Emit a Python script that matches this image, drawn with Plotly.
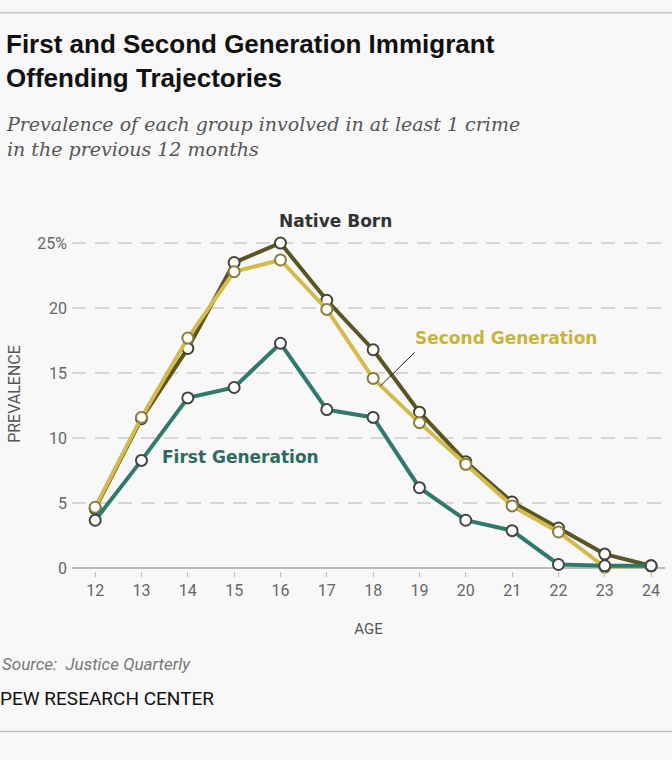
import plotly.graph_objects as go

ages = [12, 13, 14, 15, 16, 17, 18, 19, 20, 21, 22, 23, 24]
native_born = [4.6, 11.5, 16.9, 23.5, 25.0, 20.6, 16.8, 12.0, 8.2, 5.1, 3.1, 1.1, 0.2]
second_gen = [4.7, 11.6, 17.7, 22.8, 23.7, 19.9, 14.6, 11.2, 8.0, 4.8, 2.8, 0.1, 0.2]
first_gen = [3.7, 8.3, 13.1, 13.9, 17.3, 12.2, 11.6, 6.2, 3.7, 2.9, 0.3, 0.2, 0.2]
y_tickvals = [0, 5, 10, 15, 20, 25]
y_ticktext = ["0", "5", "10", "15", "20", "25%"]

W, H = 672, 760
L, R, T = 72, 665, 217
YMIN, YMAX = -0.2, 27
BOT = 570.6
ml, mr, mt, mb = L, W - R, T, H - BOT


def px(x):
    return (x - L) / (R - L)


def py(y):
    return (BOT - y) / (BOT - T)


BG = "#f8f8f8"
C_NATIVE = "#5a5522"
C_SECOND = "#d4ba4c"
C_FIRST = "#2f7a6d"

fig = go.Figure()


def add(vals, color, outline):
    fig.add_trace(go.Scatter(
        x=ages, y=vals, mode="lines+markers",
        line=dict(color=color, width=4),
        marker=dict(size=11, color="white", line=dict(color=outline, width=2)),
        hoverinfo="skip", showlegend=False, cliponaxis=False))


add(native_born, C_NATIVE, "#444433")
add(second_gen, C_SECOND, "#8a7e3a")
add(first_gen, C_FIRST, "#444444")

tick_font = dict(family="Roboto, Liberation Sans, sans-serif", size=16, color="#666666")

fig.update_layout(
    width=W, height=H,
    margin=dict(l=ml, r=mr, t=mt, b=mb, pad=0),
    paper_bgcolor=BG, plot_bgcolor=BG,
    xaxis=dict(range=[11.5, 24.3], tickvals=ages, ticks="outside", ticklen=5,
               tickcolor="#bbbbbb", tickfont=tick_font, showgrid=False, zeroline=False,
               showline=False, fixedrange=True,
               title=dict(text="AGE", font=dict(family="Roboto, sans-serif", size=15, color="#555555"),
                          standoff=24)),
    yaxis=dict(range=[YMIN, YMAX], tickvals=y_tickvals, ticktext=y_ticktext,
               tickfont=tick_font, showgrid=True, gridcolor="#d6d6d6", griddash="14px,9px",
               gridwidth=1.5, zeroline=True, zerolinecolor="#bbbbbb", zerolinewidth=2,
               ticklabelstandoff=4, fixedrange=True,
               title=dict(text="PREVALENCE", font=dict(family="Roboto, sans-serif", size=16, color="#555555"),
                          standoff=12)),
)

annos = [
    dict(text="<b>First and Second Generation Immigrant<br>Offending Trajectories</b>",
         x=px(4), y=py(27), xanchor="left", yanchor="top", align="left",
         font=dict(family="Liberation Sans Narrow, Arial Narrow, sans-serif", size=26, color="#111111")),
    dict(text="<i>Prevalence of each group involved in at least 1 crime<br>in the previous 12 months</i>",
         x=px(4), y=py(111), xanchor="left", yanchor="top", align="left",
         font=dict(family="DejaVu Serif, serif", size=19, color="#555555")),
    dict(text="<b>Native Born</b>", x=px(335), y=py(221), xanchor="center", yanchor="middle",
         font=dict(family="DejaVu Sans, sans-serif", size=17, color="#333333")),
    dict(text="<b>Second Generation</b>", x=px(413), y=py(338), xanchor="left", yanchor="middle",
         font=dict(family="DejaVu Sans, sans-serif", size=17, color="#c9b53a")),
    dict(text="<b>First Generation</b>", x=px(160), y=py(457), xanchor="left", yanchor="middle",
         font=dict(family="DejaVu Sans, sans-serif", size=17, color="#2f6a60")),
    dict(text="<i>Source:  Justice Quarterly</i>", x=px(0), y=py(663), xanchor="left", yanchor="middle",
         font=dict(family="Roboto, sans-serif", size=17, color="#777777")),
    dict(text="PEW RESEARCH CENTER", x=px(-2), y=py(698), xanchor="left", yanchor="middle",
         font=dict(family="Roboto, sans-serif", size=19, color="#111111")),
]
for a in annos:
    a.setdefault("xref", "paper")
    a.setdefault("yref", "paper")
    a["showarrow"] = False
    fig.add_annotation(**a)

fig.add_shape(type="line", xref="x", yref="y", x0=18.15, y0=14.0, x1=18.9, y1=16.6,
              line=dict(color="#222222", width=1))
fig.add_shape(type="line", xref="paper", yref="paper", x0=px(0), x1=px(W), y0=py(13), y1=py(13),
              line=dict(color="#cccccc", width=2))
fig.add_shape(type="line", xref="paper", yref="paper", x0=px(0), x1=px(W), y0=py(731), y1=py(731),
              line=dict(color="#bbbbbb", width=1.5))

fig.write_html("out.html", config={"displayModeBar": False},
               post_script="document.body.style.margin='0';")
